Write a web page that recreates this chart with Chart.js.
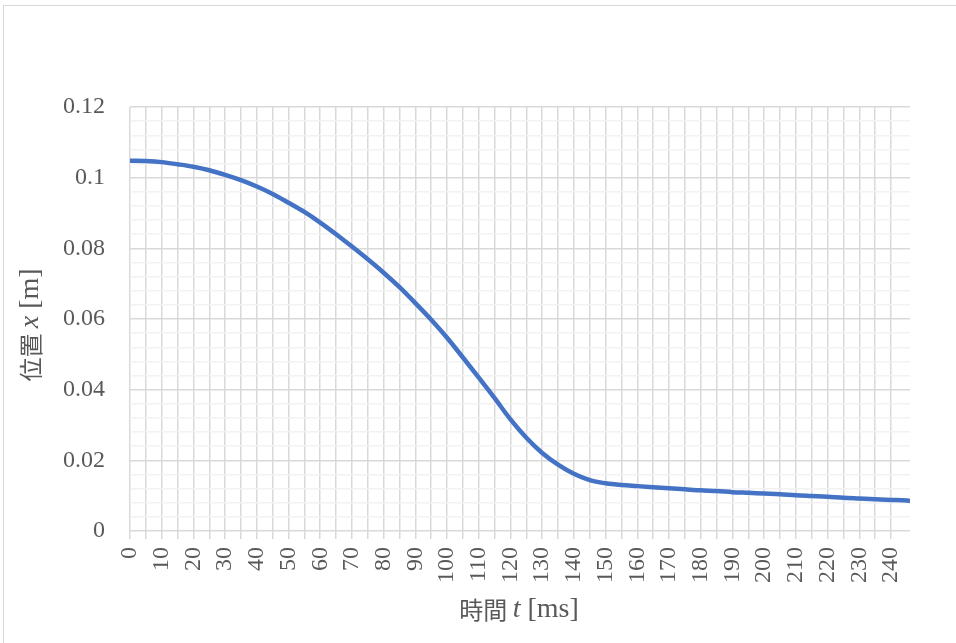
<!DOCTYPE html>
<html>
<head>
<meta charset="utf-8">
<script src="https://cdn.jsdelivr.net/npm/chart.js@4/dist/chart.umd.min.js"></script>
<style>
  html, body { margin: 0; padding: 0; background: #fff; overflow: hidden; }
  #wrap { position: relative; width: 956px; height: 643px; }
  #frame { position: absolute; left: 3px; top: 5px; width: 960px; height: 650px; border: 1px solid #d9d9d9; pointer-events: none; }
</style>
</head>
<body>
<div id="wrap">
  <canvas id="posChart" width="956" height="643"></canvas>
  <div id="frame"></div>
</div>
<script>
// time [ms] and position [m]
const times = [0, 5, 10, 15, 20, 25, 30, 35, 40, 45, 50, 55, 60, 65, 70, 75, 80, 85, 90, 95,
  100, 105, 110, 115, 120, 125, 130, 135, 140, 145, 150, 155, 160, 165, 170, 175, 180, 185, 190, 195,
  200, 205, 210, 215, 220, 225, 230, 235, 240, 245, 246];
const positions = [0.1048, 0.1047, 0.1044, 0.1038, 0.1031, 0.1021, 0.1008, 0.0993, 0.0975, 0.0954,
  0.0929, 0.0903, 0.0873, 0.0840, 0.0805, 0.0769, 0.0731, 0.0690, 0.0645, 0.0598,
  0.0547, 0.0491, 0.0434, 0.0376, 0.0316, 0.0264, 0.0221, 0.0188, 0.0162, 0.0144,
  0.0135, 0.0130, 0.0127, 0.0124, 0.0121, 0.0118, 0.0115, 0.0113, 0.0110, 0.0108,
  0.0106, 0.0104, 0.0101, 0.0099, 0.0097, 0.0094, 0.0092, 0.0090, 0.0088, 0.0086, 0.0085];
const xTitle = ['時間 ', 't', ' [ms]'];
const yTitle = ['位置 ', 'x', ' [m]'];

const textColor = '#595959';
const serif = '"Liberation Serif", "DejaVu Serif", serif';
const cjk = '"Noto Sans CJK JP", sans-serif';

function drawTitle(ctx, parts, cx, cy, rot) {
  const fonts = ['24px ' + cjk, 'italic 28px ' + serif, '28px ' + serif];
  let total = 0;
  const widths = parts.map((p, i) => {
    ctx.font = fonts[i];
    const w = ctx.measureText(p).width;
    total += w;
    return w;
  });
  ctx.save();
  ctx.translate(cx, cy);
  ctx.rotate(rot);
  ctx.fillStyle = textColor;
  ctx.textBaseline = 'middle';
  ctx.textAlign = 'left';
  let x = -total / 2;
  parts.forEach((p, i) => {
    ctx.font = fonts[i];
    ctx.fillText(p, x, 0);
    x += widths[i];
  });
  ctx.restore();
}

const axisTitles = {
  id: 'axisTitles',
  afterDraw(chart) {
    const ctx = chart.ctx;
    const a = chart.chartArea;
    drawTitle(ctx, xTitle, (a.left + a.right) / 2 - 1, 610, 0);
    drawTitle(ctx, yTitle, 31, (a.top + a.bottom) / 2 + 6, -Math.PI / 2);
  }
};

const ctx = document.getElementById('posChart');

new Chart(ctx, {
  type: 'line',
  data: {
    datasets: [{
      label: '位置',
      data: times.map((t, i) => ({ x: t, y: positions[i] })),
      borderColor: '#4472C4',
      borderWidth: 4.5,
      pointRadius: 0,
      cubicInterpolationMode: 'monotone',
      fill: false
    }]
  },
  options: {
    responsive: false,
    animation: false,
    layout: { padding: { left: 0, top: 107, right: 46, bottom: 0 } },
    plugins: {
      legend: { display: false },
      tooltip: { enabled: false }
    },
    scales: {
      x: {
        type: 'linear',
        min: 0,
        max: 246,
        afterFit: (s) => { s.height = 112; },
        afterBuildTicks: (s) => { s.ticks = s.ticks.filter(t => t.value % 5 === 0); },
        border: { display: false },
        grid: { color: '#d9d9d9', lineWidth: 1.5, tickLength: 8, drawTicks: true },
        ticks: {
          stepSize: 5,
          autoSkip: false,
          maxRotation: 90,
          minRotation: 90,
          padding: 8,
          color: textColor,
          font: { family: serif, size: 24 },
          callback: (v) => (v % 10 === 0 ? String(v) : '')
        }
      },
      y: {
        min: 0,
        max: 0.12,
        afterFit: (s) => { s.width = 130; },
        border: { display: false },
        grid: {
          drawTicks: false,
          lineWidth: 1.5,
          color: (c) => (Math.round(c.tick.value / 0.004) % 5 === 0 ? '#d9d9d9' : '#f2f2f2')
        },
        ticks: {
          stepSize: 0.004,
          autoSkip: false,
          padding: 25,
          color: textColor,
          font: { family: serif, size: 24 },
          callback: (v) => (Math.round(v / 0.004) % 5 === 0 ? String(Math.round(v * 100) / 100) : '')
        }
      }
    }
  },
  plugins: [axisTitles]
});
</script>
</body>
</html>
